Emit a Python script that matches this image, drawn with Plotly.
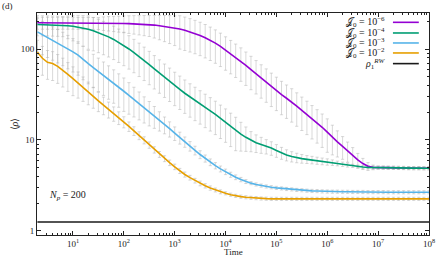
import plotly.graph_objects as go

# ---------------- data ----------------
TIME = [2.00, 2.51, 3.16, 3.98, 5.01, 6.31, 7.94,
        1.00e1, 1.26e1, 1.58e1, 2.00e1, 2.51e1, 3.16e1, 3.98e1, 5.01e1, 6.31e1, 7.94e1,
        1.00e2, 1.26e2, 1.58e2, 2.00e2, 2.51e2, 3.16e2, 3.98e2, 5.01e2, 6.31e2, 7.94e2,
        1.00e3, 1.26e3, 1.58e3, 2.00e3, 2.51e3, 3.16e3, 3.98e3, 5.01e3, 6.31e3, 7.94e3,
        1.00e4, 1.26e4, 1.58e4, 2.00e4, 2.51e4, 3.16e4, 3.98e4, 5.01e4, 6.31e4, 7.94e4,
        1.00e5, 1.26e5, 1.58e5, 2.00e5, 2.51e5, 3.16e5, 3.98e5, 5.01e5, 6.31e5, 7.94e5,
        1.00e6, 1.26e6, 1.58e6, 2.00e6, 2.51e6, 3.16e6, 3.98e6, 5.01e6, 6.31e6, 7.94e6,
        1.00e7, 1.26e7, 1.58e7, 2.00e7, 2.51e7, 3.16e7, 3.98e7, 5.01e7, 6.31e7, 7.94e7,
        1.00e8]

RHO_J6 = [195, 195, 195, 195, 195, 195, 195, 195, 194.5, 194.5,
          194, 194, 193.6, 193.6, 193.2, 192.8, 192.3, 191.9, 191, 190.1,
          188.8, 187.5, 186.2, 184.1, 181.1, 177.8, 174.6, 171, 166.7, 161.1,
          154.9, 148.3, 141.3, 133.4, 125, 116.4, 107.2, 97.7, 89.1, 81.3,
          73.8, 66.4, 59.6, 53.5, 48.1, 43.3, 38.9, 35.1, 31.6, 28.8,
          26.2, 23.6, 21.2, 19.1, 17.1, 15.4, 13.8, 12.2, 10.7, 9.55,
          8.51, 7.59, 6.76, 6.03, 5.50, 5.13, 5.00, 4.97, 4.96, 4.95,
          4.94, 4.93, 4.92, 4.91, 4.90, 4.90, 4.89, 4.89]
REL_J6 = [0.15] * 13 + [0.17, 0.18, 0.19, 0.2, 0.21, 0.22, 0.23, 0.24, 0.25, 0.26] \
         + [0.28, 0.30, 0.32, 0.34, 0.36] + [0.4] * 30 \
         + [0.36, 0.32, 0.28, 0.25, 0.22, 0.18, 0.14, 0.1, 0.06] + [0.04] * 11

RHO_J4 = [187.1, 186.6, 186.2, 185.4, 184.5, 182.8, 181.1, 178.6, 175.4, 171.0,
          166.0, 159.6, 152.4, 144.5, 136.5, 127.9, 118.9, 109.6, 100.5, 91.6,
          83.2, 75.2, 67.6, 60.7, 54.5, 49.0, 44.2, 39.8, 36.1, 32.7,
          29.7, 27.2, 24.9, 22.8, 20.9, 19.1, 17.3, 15.7, 14.1, 12.7,
          11.6, 10.7, 9.89, 9.33, 8.91, 8.55, 8.17, 7.67, 7.21, 6.84,
          6.58, 6.38, 6.24, 6.12, 6.03, 5.93, 5.83, 5.74, 5.64, 5.52,
          5.41, 5.30, 5.19, 5.09, 5.04, 5.00, 4.98, 4.97, 4.96, 4.95,
          4.94, 4.93, 4.92, 4.91, 4.90, 4.90, 4.89, 4.89]
REL_J4 = [0.25] * 6 + [0.28, 0.31, 0.34, 0.37] + [0.4] * 30 \
         + [0.35, 0.3, 0.25, 0.22, 0.2, 0.18, 0.17, 0.16, 0.15, 0.14, 0.13, 0.12, 0.11] \
         + [0.1, 0.095, 0.09, 0.085, 0.08, 0.07, 0.06, 0.055, 0.05] + [0.04] * 16

RHO_J3 = [154.9, 144.5, 134.9, 125.9, 117.5, 109.6, 101.2, 93.3, 86.1, 76.7,
          69.2, 62.7, 56.9, 51.6, 46.8, 42.3, 38.2, 34.4, 31.0, 28.0,
          25.2, 22.6, 20.4, 18.4, 16.5, 14.8, 13.3, 11.9, 10.6, 9.55,
          8.57, 7.69, 6.92, 6.27, 5.70, 5.22, 4.81, 4.47, 4.15, 3.89,
          3.67, 3.49, 3.35, 3.24, 3.15, 3.08, 3.02, 2.97, 2.93, 2.89,
          2.86, 2.82, 2.80, 2.77, 2.75, 2.74, 2.72, 2.71, 2.70, 2.70,
          2.69, 2.69, 2.68, 2.68, 2.68, 2.67, 2.67, 2.67, 2.67, 2.66,
          2.66, 2.66, 2.66, 2.66, 2.66, 2.66, 2.66, 2.66]
REL_J3 = [0.4] * 18 + [0.38, 0.36, 0.34, 0.32, 0.3, 0.27, 0.24, 0.21, 0.19, 0.17] \
         + [0.15, 0.13, 0.12, 0.11, 0.1, 0.09, 0.085, 0.08, 0.075, 0.07] \
         + [0.065, 0.06, 0.055, 0.05] + [0.04] * 36

RHO_J2 = [92.7, 79.4, 71.6, 69.5, 64.6, 58.9, 52.7, 47.3, 42.5, 38.0,
          33.9, 30.2, 27.0, 24.3, 21.8, 19.6, 17.6, 15.8, 14.1, 12.6,
          11.2, 9.95, 8.81, 7.80, 6.95, 6.24, 5.62, 5.07, 4.57, 4.17,
          3.85, 3.57, 3.33, 3.13, 2.96, 2.82, 2.69, 2.59, 2.50, 2.43,
          2.38, 2.34, 2.31, 2.29, 2.27, 2.26, 2.25] + [2.25] * 31
REL_J2 = [0.35] * 8 + [0.32, 0.3, 0.28, 0.26, 0.24] \
         + [0.22, 0.2, 0.18, 0.16, 0.14, 0.12, 0.11, 0.1, 0.09] \
         + [0.08, 0.08, 0.075, 0.075, 0.07, 0.07, 0.065, 0.065, 0.06, 0.06, 0.06, 0.055, 0.055, 0.05, 0.05] \
         + [0.04] * 41

RHO_RW = 1.25

LABELS = ["𝒥<sub>0</sub> = 10<sup>−6</sup>",
          "𝒥<sub>0</sub> = 10<sup>−4</sup>",
          "𝒥<sub>0</sub> = 10<sup>−3</sup>",
          "𝒥<sub>0</sub> = 10<sup>−2</sup>"]
RW_LABEL = "<i>ρ</i><sub>1</sub><sup><i>RW</i></sup>"
COLORS = ["#9400D3", "#009E73", "#56B4E9", "#E69F00"]
RW_COLOR = "#1a1a1a"

XTICK_VALS = [1e1, 1e2, 1e3, 1e4, 1e5, 1e6, 1e7, 1e8]
XTICK_TEXT = ["10<sup>1</sup>", "10<sup>2</sup>", "10<sup>3</sup>", "10<sup>4</sup>",
              "10<sup>5</sup>", "10<sup>6</sup>", "10<sup>7</sup>", "10<sup>8</sup>"]
YTICK_VALS = [1, 10, 100]
YTICK_TEXT = ["1", "10", "100"]

SERIES = [(LABELS[0], RHO_J6, REL_J6, COLORS[0]),
          (LABELS[1], RHO_J4, REL_J4, COLORS[1]),
          (LABELS[2], RHO_J3, REL_J3, COLORS[2]),
          (LABELS[3], RHO_J2, REL_J2, COLORS[3])]

FONT = "Liberation Serif"

fig = go.Figure()

# grey error bars first (below all lines)
for name, vals, rel, color in SERIES:
    err = [v * r for v, r in zip(vals, rel)]
    fig.add_trace(go.Scatter(
        x=TIME, y=vals, mode="markers",
        marker=dict(size=1, color="rgba(0,0,0,0)"),
        error_y=dict(type="data", array=err, symmetric=True,
                     color="rgba(175,175,175,0.6)", thickness=0.8, width=1.6),
        showlegend=False, hoverinfo="skip"))

for name, vals, rel, color in SERIES:
    fig.add_trace(go.Scatter(x=TIME, y=vals, mode="lines", name=name,
                             line=dict(color=color, width=1.6), showlegend=False))

fig.add_trace(go.Scatter(x=[TIME[0], TIME[-1]], y=[RHO_RW, RHO_RW], mode="lines",
                         name=RW_LABEL, line=dict(color=RW_COLOR, width=1.5),
                         showlegend=False))

# manual legend (text on the left, key line on the right)
leg_rows = [0.958, 0.910, 0.865, 0.820, 0.772]
leg_text = LABELS + [RW_LABEL]
leg_cols = COLORS + [RW_COLOR]
shapes = []
annotations = []
for yy, txt, col in zip(leg_rows, leg_text, leg_cols):
    annotations.append(dict(x=0.893, y=yy, xref="paper", yref="paper", text=txt,
                            showarrow=False, xanchor="right", yanchor="middle",
                            font=dict(family=FONT, size=10, color="#222")))
    shapes.append(dict(type="line", xref="paper", yref="paper", x0=0.908, x1=0.974,
                       y0=yy, y1=yy, line=dict(color=col, width=1.6)))

annotations.append(dict(x=0.077, y=0.18, xref="paper", yref="paper",
                        text="<i>N</i><sub><i>p</i></sub> = 200", showarrow=False,
                        xanchor="center", yanchor="middle",
                        font=dict(family=FONT, size=10, color="#222")))
annotations.append(dict(x=-0.094, y=1.032, xref="paper", yref="paper", text="(d)",
                        showarrow=False, xanchor="left", yanchor="middle",
                        font=dict(family=FONT, size=9, color="#222")))
annotations.append(dict(x=0.5, y=-0.077, xref="paper", yref="paper", text="Time",
                        showarrow=False, xanchor="center", yanchor="middle",
                        font=dict(family=FONT, size=9, color="#222")))

axis_common = dict(showgrid=False, zeroline=False, showline=True, linecolor="#222",
                   linewidth=1, mirror="ticks", ticks="inside", ticklen=4,
                   tickcolor="#222", tickwidth=0.8,
                   tickfont=dict(family=FONT, size=9, color="#222"),
                   minor=dict(ticks="inside", ticklen=2, tickcolor="#222",
                              tickwidth=0.6, showgrid=False, dtick="D1"))

fig.update_layout(
    width=436, height=256,
    margin=dict(l=37, r=7, t=13, b=21),
    paper_bgcolor="white", plot_bgcolor="white",
    font=dict(family=FONT, size=10, color="#222"),
    showlegend=False,
    shapes=shapes, annotations=annotations,
    xaxis=dict(type="log", range=[0.293, 8.0], tickmode="array",
               tickvals=XTICK_VALS, ticktext=XTICK_TEXT, ticklabelstandoff=0,
               automargin=False, **axis_common),
    yaxis=dict(type="log", range=[-0.046, 2.398], tickmode="array",
               tickvals=YTICK_VALS, ticktext=YTICK_TEXT,
               title=dict(text="⟨<i>ρ</i>⟩", standoff=0,
                          font=dict(family=FONT, size=10, color="#222")),
               automargin=False, **axis_common),
)

fig.write_html("out.html", config={"displayModeBar": False},
               post_script=["document.body.style.margin='0px';"
                            "document.body.style.overflow='hidden';"])
